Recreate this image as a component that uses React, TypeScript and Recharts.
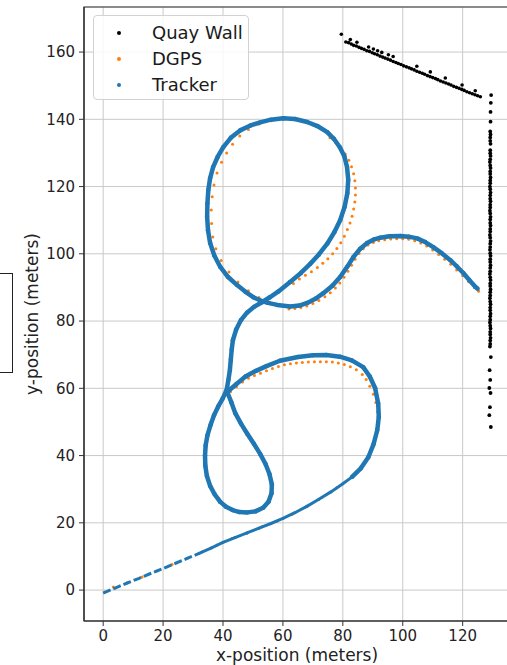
import React from 'react';
import { ScatterChart, Scatter, XAxis, YAxis, CartesianGrid, ReferenceArea, Legend, Label } from 'recharts';

type P = [number, number];

const xTicks = [0, 20, 40, 60, 80, 100, 120];
const yTicks = [0, 20, 40, 60, 80, 100, 120, 140, 160];
const xDomain: [number, number] = [-6.4, 135.8];
const yDomain: [number, number] = [-9.2, 173.4];
const xLabel = 'x-position (meters)';
const yLabel = 'y-position (meters)';
const seriesNames = ['Quay Wall', 'DGPS', 'Tracker'];
const seriesColors = ['#000000', '#ff7f0e', '#1f77b4'];

// Quay wall: sloped part
const quaySlope: P[] = [
  [79.5, 165.3], [81.0, 163.0], [81.9, 162.8], [82.5, 163.7], [82.8, 162.4], [83.6, 162.0], [84.5, 161.8], [84.7, 162.9],
  [85.4, 161.4], [86.2, 161.1], [87.1, 160.8], [88.0, 160.4], [88.6, 161.5], [88.9, 160.2], [89.8, 159.8], [90.2, 160.9],
  [90.6, 159.5], [91.5, 159.2], [91.6, 160.4], [92.4, 158.8], [93.0, 159.9], [93.3, 158.5], [94.1, 158.2], [95.0, 157.9],
  [95.2, 159.2], [95.9, 157.6], [96.8, 157.2], [96.8, 158.7], [97.7, 156.9], [98.5, 156.6], [99.4, 156.3], [100.3, 155.9],
  [101.2, 155.6], [102.1, 155.3], [102.9, 155.0], [103.8, 154.7], [104.7, 154.3], [104.7, 155.8], [105.6, 154.0],
  [106.5, 153.7], [107.3, 153.4], [108.2, 153.0], [109.1, 152.7], [109.2, 154.1], [110.0, 152.4], [110.9, 152.1],
  [111.7, 151.8], [112.6, 151.4], [113.5, 151.1], [114.2, 152.3], [114.4, 150.8], [115.3, 150.5], [116.1, 150.2],
  [117.0, 149.8], [117.9, 149.5], [118.8, 149.2], [119.7, 148.9], [119.8, 150.2], [120.5, 148.6], [121.4, 148.2],
  [122.3, 147.9], [123.2, 147.6], [124.1, 147.3], [124.2, 148.5], [125.0, 147.0], [125.9, 146.7],
];

// Quay wall: straight (north-south) part
const quayColumn: P[] = [
  [129.5, 147.2], [129.4, 144.9], [129.3, 142.2], [129.3, 139.3],
  [129.2, 136.4], [129.3, 135.5], [129.2, 134.6], [129.2, 133.6], [129.3, 132.7],
  [129.2, 130.8], [129.2, 129.9], [129.3, 129.1], [129.2, 128.1], [129.1, 127.3], [129.2, 126.3], [129.3, 125.5],
  [129.2, 124.5], [129.2, 123.7], [129.3, 122.7], [129.2, 121.8], [129.2, 121.0], [129.1, 120.0], [129.2, 119.2],
  [129.3, 118.2], [129.2, 117.4], [129.2, 116.4], [129.3, 115.6], [129.2, 114.6], [129.2, 113.8], [129.1, 112.8],
  [129.2, 112.0], [129.3, 111.0], [129.2, 110.2], [129.2, 109.2], [129.3, 108.4], [129.2, 107.4], [129.2, 106.6],
  [129.1, 105.6], [129.2, 104.8], [129.3, 103.8], [129.2, 103.0], [129.2, 102.0], [129.1, 101.2], [129.2, 100.2],
  [129.3, 99.4], [129.2, 98.4], [129.2, 97.6], [129.3, 96.6], [129.2, 95.8], [129.2, 94.8], [129.1, 94.0],
  [129.2, 93.0], [129.3, 92.2], [129.2, 91.2], [129.2, 90.4], [129.3, 89.4], [129.2, 88.6], [129.2, 87.6],
  [129.1, 86.8], [129.2, 85.8], [129.3, 85.0], [129.2, 84.0], [129.2, 83.2], [129.3, 82.2], [129.2, 81.4],
  [129.2, 80.4], [129.1, 79.6], [129.2, 78.6], [129.3, 77.8], [129.2, 76.8], [129.2, 76.0], [129.3, 75.0],
  [129.2, 74.2], [129.2, 73.2], [129.1, 72.4],
  [129.4, 69.3], [129.0, 65.4], [129.2, 62.5], [128.9, 60.1], [129.3, 58.6], [129.1, 54.4], [128.9, 52.0], [129.4, 48.5],
];

// DGPS fixes
const dgps: P[] = [
  [0.5, -0.6], [3.4, 0.9], [8, 2.1], [13, 3.9], [18, 5.7], [23, 7.6], [28, 9.4], [33, 11.3], [38, 13.4], [43, 15.3],
  [48, 17.0], [53, 18.8], [58, 20.5], [63, 22.5], [68, 24.9], [73, 27.5], [78, 30.4], [83, 33.6], [87, 37.5],
  [89.6, 42], [91.2, 46.5], [91.8, 50.5], [91.6, 53], [91.0, 55.8], [90.2, 58.2], [89.0, 60.6], [87.8, 62.6],
  [86.5, 64.1], [84.5, 65.5], [82.5, 66.4], [80.5, 67.1], [78.5, 67.5], [76.5, 67.8], [74.5, 67.9], [72.5, 67.9],
  [70.5, 67.9], [68.5, 67.8], [66.5, 67.7], [64.5, 67.5], [62.5, 67.3], [60.5, 67.0], [58.5, 66.5], [56.5, 65.9],
  [54.5, 65.2], [52.5, 64.5], [50.5, 63.8], [48.5, 63.0], [46.5, 61.9], [44.5, 60.5], [42.5, 59.0],
  [44, 52.5], [48, 46.5], [52.4, 40.5], [55.5, 34.5], [56.2, 29], [54.8, 25.8],
  [52, 23.8], [49, 23.2], [46, 23.1], [44, 23.5], [42, 24.3], [40.3, 25.5], [38.6, 27.3],
  [35.5, 31.5], [34.2, 36], [34, 41], [34.6, 45.5], [36, 50], [38.5, 54.6], [41, 58.8], [42.2, 64], [42.8, 70],
  [43.6, 75.5], [46.5, 80.5], [51, 84.5], [55.5, 87.1], [60, 90],
  [63.5, 91.2], [65.5, 92.5], [67.5, 93.6], [69.5, 94.7], [71.5, 95.9], [73.3, 97.2], [75, 98.5], [76.6, 100],
  [78, 101.6], [79.3, 103.3], [80.5, 105.2], [81.5, 107.2], [82.4, 109.2], [83.1, 111.2], [83.6, 113.3], [84, 115.4],
  [84.2, 117.5], [84.2, 119.6], [84, 121.7], [83.6, 123.8], [82.9, 125.9], [82, 127.8], [80.8, 129.7], [79.3, 131.5],
  [77.6, 133.1], [75.7, 134.5], [72, 137.9], [68, 139.3], [64, 140], [60, 140.1], [56, 139.6], [52, 138.6],
  [48.5, 137], [45.6, 135], [43.2, 132.6], [41.2, 130], [39.5, 127.2], [38, 124], [37, 120.5], [36.4, 117],
  [36.1, 113], [36.2, 109], [36.6, 105], [37.6, 101.5], [39.4, 98], [42, 94.6], [45, 91.6], [48.5, 89], [52, 87],
  [55.5, 85.6], [59, 84.6], [62, 83.6], [64, 83.7], [66, 84], [68, 84.5], [70, 85.2], [72, 86.1], [74, 87.2],
  [75.8, 88.4], [77.5, 89.8], [79, 91.3], [80.4, 93], [81.7, 94.8], [82.9, 96.6], [84.1, 98.4], [85.4, 100.1],
  [86.8, 101.5], [88.4, 102.6], [90.2, 103.4], [92, 103.9], [94, 104.2], [96, 104.4], [98, 104.5], [100, 104.5],
  [102, 104.3], [104, 103.9], [106, 103.2], [108, 102.3], [110, 101.1], [112, 99.8], [114, 98.4], [116, 96.9],
  [118, 95.2], [120, 93.5], [122, 91.7], [124, 90], [125.3, 88.9],
];

// Tracker track
const trackerStart: P[] = [
  [0, -0.9], [4, 0.6], [8, 2.1], [12, 3.5], [16, 5.0], [20, 6.4], [24, 7.9], [28, 9.4], [32, 10.9],
];
const trackerDiagonal: P[] = [
  [32, 10.9], [36, 12.5], [40, 14.2], [44, 15.6], [48, 17.0], [52, 18.4], [56, 19.8], [60, 21.3], [64, 23.0],
  [68, 24.9], [72, 27.0], [76, 29.2], [80, 31.6], [83, 33.6],
];
const trackerLoops: P[] = [
  [83, 33.6], [86, 36.2], [88.5, 39.5], [90.3, 43.5], [91.5, 47.6], [92, 51.5], [91.8, 55.5], [90.8, 60.0], [89, 63.5],
  [86.8, 66.3], [83, 68.3], [79, 69.4], [74.5, 69.9], [70, 69.8], [65, 69.3], [59, 68.2], [54.5, 66.6], [51, 65.2],
  [47.5, 63.5], [44.5, 61.3], [41.4, 58.9], [42.8, 55.8], [44.1, 52.6], [46, 49.5], [48.1, 46.5], [50.3, 43.5],
  [52.4, 40.5], [54.2, 37.5], [55.5, 34.5], [56.3, 31.5], [56.2, 28.8], [55.2, 26.3], [53.4, 24.5], [50.8, 23.4],
  [48.1, 23.1], [45.5, 23.2], [43.2, 23.8], [41, 24.8], [39, 26.3], [37.2, 28.5], [35.7, 31], [34.6, 34], [34.1, 37],
  [34, 40], [34.2, 43], [34.8, 46], [35.8, 49], [37, 52], [38.4, 54.6], [39.8, 56.8], [41.2, 59.5], [41.8, 62.5],
  [42.3, 65.5], [42.6, 68.5], [42.9, 71.5], [43.3, 74.3], [44.4, 77.5], [46, 80.3], [48, 82.5], [50.5, 84.3],
  [53, 85.6], [55.5, 87], [58.5, 88.8], [62.4, 91.6], [66, 94.3], [69.1, 97.0], [72, 99.8], [74.8, 103.0],
  [77.2, 106.5], [79.1, 110], [80.6, 114], [81.5, 118], [81.8, 122], [81.4, 125.8], [80.5, 129], [79, 131.7],
  [77, 134.2], [74.8, 136.2], [71.5, 138], [68.1, 139.2], [64, 140.1], [60.1, 140.3], [56, 139.9], [52.4, 139.1],
  [49, 138.1], [45.7, 136.7], [42.6, 134.5], [40.1, 131.7], [38.2, 128.8], [36.7, 125.8], [35.7, 122.5],
  [35.1, 119], [34.8, 115], [34.7, 111], [35, 107], [35.7, 103.2], [37.1, 99.5], [39.1, 96.1], [41.7, 93.1],
  [44.7, 90.7], [47.5, 88.7], [50.1, 87.1], [52.5, 86.1], [55, 85.4], [58.1, 84.8], [62.4, 84.3], [65.5, 84.6],
  [68.1, 85.4], [71, 86.7], [73.5, 88.3], [76.5, 90.5], [79.1, 93.1], [81.5, 96.2], [83.5, 99.0], [85.8, 101.5],
  [88.1, 103.2], [90.5, 104.3], [92.5, 104.8], [95.5, 105.2], [99.2, 105.3], [102, 105.1], [104.8, 104.6],
  [107.5, 103.5], [110.2, 102], [113, 100.2], [115.9, 98.1], [118, 96.3], [120.2, 94.3], [122.2, 92.2],
  [124.2, 90.2], [125, 89.6],
];

const toPts = (a: P[]) => a.map(([x, y]) => ({ x, y }));

const dot = (r: number, color: string) => (props: any) =>
  props.cx == null ? <g /> : <circle cx={props.cx} cy={props.cy} r={r} fill={color} />;

const renderLegend = () => (
  <div
    style={{
      width: 156,
      height: 85,
      boxSizing: 'border-box',
      border: '1px solid #d2d2d2',
      borderRadius: 4,
      background: 'rgba(255,255,255,0.85)',
      position: 'relative',
      fontFamily: 'DejaVu Sans',
      fontSize: 18,
      color: '#1a1a1a',
    }}
  >
    {seriesNames.map((name, i) => (
      <div key={name} style={{ position: 'absolute', left: 0, top: 4 + i * 26, height: 26, width: '100%' }}>
        <span
          style={{
            position: 'absolute',
            left: 23,
            top: 11,
            width: 4,
            height: 4,
            borderRadius: '50%',
            background: seriesColors[i],
          }}
        />
        <span style={{ position: 'absolute', left: 58, top: 0, lineHeight: '26px', whiteSpace: 'nowrap' }}>{name}</span>
      </div>
    ))}
  </div>
);

export default function App() {
  const tick = { fontSize: 15, fill: '#222', fontFamily: 'DejaVu Sans' };
  return (
    <div style={{ position: 'absolute', left: 0, top: 0, width: 507, height: 665, overflow: 'hidden', background: '#fff' }}>
      <div
        style={{
          position: 'absolute',
          left: -6,
          top: 273,
          width: 19,
          height: 100,
          border: '1.5px solid #222',
          boxSizing: 'border-box',
        }}
      />
      <ScatterChart width={510} height={665} margin={{ top: 7, right: 0, bottom: 0, left: 0 }}>
        <CartesianGrid stroke="#c9c9c9" strokeWidth={1} />
        <XAxis
          dataKey="x"
          type="number"
          domain={xDomain}
          ticks={xTicks}
          allowDataOverflow
          height={44}
          tick={tick}
          tickSize={5}
          tickMargin={4}
          stroke="#333"
          tickLine={{ stroke: '#333' }}
          axisLine={{ stroke: '#333', strokeWidth: 1.2 }}
        >
          <Label
            content={(p: any) => {
              const vb = p.viewBox || { x: 84, y: 621, width: 426, height: 44 };
              return (
                <text
                  x={vb.x + vb.width / 2}
                  y={vb.y + vb.height - 4}
                  textAnchor="middle"
                  fontSize={17}
                  fontFamily="DejaVu Sans"
                  fill="#222"
                >
                  {xLabel}
                </text>
              );
            }}
          />
        </XAxis>
        <YAxis
          dataKey="y"
          type="number"
          domain={yDomain}
          ticks={yTicks}
          allowDataOverflow
          width={84}
          tick={tick}
          tickSize={5}
          tickMargin={4}
          stroke="#333"
          tickLine={{ stroke: '#333' }}
          axisLine={{ stroke: '#333', strokeWidth: 1.2 }}
        >
          <Label
            content={(p: any) => {
              const vb = p.viewBox || { x: 0, y: 7, width: 84, height: 614 };
              const cx = vb.x + 38;
              const cy = vb.y + vb.height / 2;
              return (
                <text
                  x={cx}
                  y={cy}
                  transform={`rotate(-90, ${cx}, ${cy})`}
                  textAnchor="middle"
                  fontSize={17}
                  fontFamily="DejaVu Sans"
                  fill="#222"
                >
                  {yLabel}
                </text>
              );
            }}
          />
        </YAxis>
        <ReferenceArea
          x1={xDomain[0]}
          x2={xDomain[1]}
          y1={yDomain[0]}
          y2={yDomain[1]}
          fill="none"
          fillOpacity={0}
          stroke="#333"
          strokeWidth={1.2}
          ifOverflow="visible"
        />
        <Scatter name="Quay Wall" data={toPts(quaySlope)} fill="#000" shape={dot(1.8, '#000')} isAnimationActive={false} />
        <Scatter name="Quay Wall" data={toPts(quayColumn)} fill="#000" shape={dot(1.9, '#000')} isAnimationActive={false} legendType="none" />
        <Scatter name="DGPS" data={toPts(dgps)} fill="#ff7f0e" shape={dot(1.5, '#ff7f0e')} isAnimationActive={false} />
        <Scatter
          name="Tracker"
          data={toPts(trackerStart)}
          fill="#1f77b4"
          shape={dot(0, '#1f77b4')}
          line={{ stroke: '#1f77b4', strokeWidth: 3, strokeDasharray: '8 3' }}
          lineType="joint"
          isAnimationActive={false}
        />
        <Scatter
          name="Tracker"
          data={toPts(trackerDiagonal)}
          fill="#1f77b4"
          shape={dot(1.5, '#1f77b4')}
          line={{ stroke: '#1f77b4', strokeWidth: 3 }}
          lineType="joint"
          isAnimationActive={false}
          legendType="none"
        />
        <Scatter
          name="Tracker"
          data={toPts(trackerLoops)}
          fill="#1f77b4"
          shape={dot(2.2, '#1f77b4')}
          line={{ stroke: '#1f77b4', strokeWidth: 4.5, strokeLinejoin: 'round' }}
          lineType="joint"
          isAnimationActive={false}
          legendType="none"
        />
        <Legend
          layout="vertical"
          align="center"
          verticalAlign="middle"
          content={renderLegend}
          wrapperStyle={{ left: 93, top: 15, width: 156, height: 85 }}
        />
      </ScatterChart>
    </div>
  );
}
